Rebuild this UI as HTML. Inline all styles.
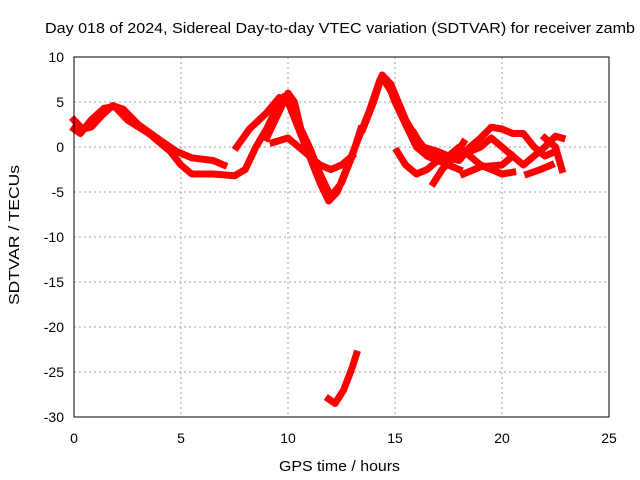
<!DOCTYPE html>
<html><head><meta charset="utf-8"><style>
body{margin:0;background:#fff;}
svg{display:block;font-family:"Liberation Sans",sans-serif;}
</style></head><body>
<svg id="chart" width="640" height="480">
<text x="45" y="33" font-size="15" textLength="590" lengthAdjust="spacingAndGlyphs">Day 018 of 2024, Sidereal Day-to-day VTEC variation (SDTVAR) for receiver zamb</text>
<text x="279" y="471" font-size="15" textLength="121" lengthAdjust="spacingAndGlyphs">GPS time / hours</text>
<text transform="translate(19,305) rotate(-90)" font-size="15" textLength="140" lengthAdjust="spacingAndGlyphs">SDTVAR / TECUs</text>
<g id="grid"></g><g id="marks"></g>
<rect x="74" y="57" width="535" height="360" fill="none" stroke="#000" stroke-width="1"/>
</svg>
<script>
const xTicks=[0,5,10,15,20,25];
const yTicks=[10,5,0,-5,-10,-15,-20,-25,-30];
const track1=[[0,3],[0.4,2],[0.8,2.2],[1.3,3.5],[1.8,4.6],[2.3,4.2],[3,2.5],[4,0.8],[4.8,-0.5],[5.5,-1.2],[6.5,-1.5],[7,-2]];
const track2=[[0,2],[0.3,1.5],[0.8,3],[1.4,4.3],[1.9,4.5],[2.5,3],[3.5,1.5],[4.5,-0.5],[5,-2],[5.5,-3],[6.5,-3],[7.5,-3.2],[8,-2.5],[8.5,0],[9,2],[9.5,4.5],[9.8,5.5]];
const track3=[[7.6,0],[8.2,2],[9,3.8],[9.6,5.5],[10,5],[10.5,2],[11,-1],[11.5,-4],[11.9,-6],[12.3,-5],[12.8,-2],[13.3,1],[13.8,4],[14.3,7.5],[14.6,7.5],[15,5],[15.6,2],[16.3,0],[17,-0.5],[17.5,-1]];
const track4=[[9,1],[9.6,4],[10,6],[10.3,5],[10.6,2],[11,0],[11.5,-3],[12,-5.5],[12.5,-4],[13,-1],[13.4,2]];
const track5=[[9.3,0.5],[10,1],[10.5,0],[11,-1],[11.5,-2],[12,-2.5],[12.5,-2],[13,-1]];
const track6=[[11.9,-28],[12.2,-28.5],[12.6,-27],[13,-24.5],[13.2,-23]];
const track7=[[13.5,2],[14,5],[14.4,8],[14.8,7],[15.5,3],[16,1],[16.5,-0.5],[17.2,-1],[18,-1.5],[18.5,0],[19,1],[19.5,2.2],[20,2],[20.5,1.5],[21,1.5],[21.5,0],[22,-1],[22.5,-0.5]];
const track8=[[14.6,7],[15,5.5],[15.5,2.5],[16,0],[16.5,-1],[17,-1.5],[17.5,-1],[18,0],[18.5,-1],[19,-2],[19.5,-2.5],[20,-3],[20.5,-2.8]];
const track9=[[15.1,-0.5],[15.5,-2],[16,-3],[16.5,-2.5],[17,-1.5]];
const track10=[[16.8,-4],[17.2,-2.5],[17.8,-1],[18.2,0.5]];
const track11=[[18,-1],[19,0],[19.5,1],[20,0],[20.5,-1],[21,-2],[21.5,-1],[22,0],[22.5,1.2],[22.8,1]];
const track12=[[21.2,-3],[21.8,-2.5],[22.3,-2]];
const track13=[[22,1],[22.5,0],[22.8,-2.5]];
const track14=[[18.2,-3],[19,-2.2],[20,-2],[20.5,-1]];
const track15=[[15.9,1.5],[16.5,-1],[17.5,-2],[18,-2.5]];
const tracks=[track1,track2,track3,track4,track5,track6,track7,track8,track9,track10,track11,track12,track13,track14,track15];
const NS="http://www.w3.org/2000/svg";
const X=t=>74+t*535/25, Y=v=>57+(10-v)*360/40;
const grid=document.getElementById('grid'), marks=document.getElementById('marks');
function mk(tag,attrs,parent){const e=document.createElementNS(NS,tag);for(const k in attrs)e.setAttribute(k,attrs[k]);parent.appendChild(e);return e;}
xTicks.forEach(t=>{
  if(t>0&&t<25){const g=mk('line',{x1:X(t),x2:X(t),y1:57,y2:417,stroke:'#a0a0a0','stroke-dasharray':'2,3'},grid);
  
  }
  const l=mk('text',{x:X(t),y:443,'font-size':14,'text-anchor':'middle'},grid);l.textContent=t;
  
  
});
yTicks.forEach(v=>{
  if(v<10&&v>-30){const g=mk('line',{x1:74,x2:609,y1:Y(v),y2:Y(v),stroke:'#a0a0a0','stroke-dasharray':'2,3'},grid);
  
  }
  const l=mk('text',{x:64,y:Y(v)+5,'font-size':14,'text-anchor':'end'},grid);l.textContent=v;
  
  
});
tracks.forEach(tr=>{
  const p=mk('polyline',{points:tr.map(d=>X(d[0])+','+Y(d[1])).join(' '),fill:'none',stroke:'#ff0000','stroke-width':7,'stroke-linejoin':'round','stroke-linecap':'square'},marks);
  
  
});
</script>
</body></html>
